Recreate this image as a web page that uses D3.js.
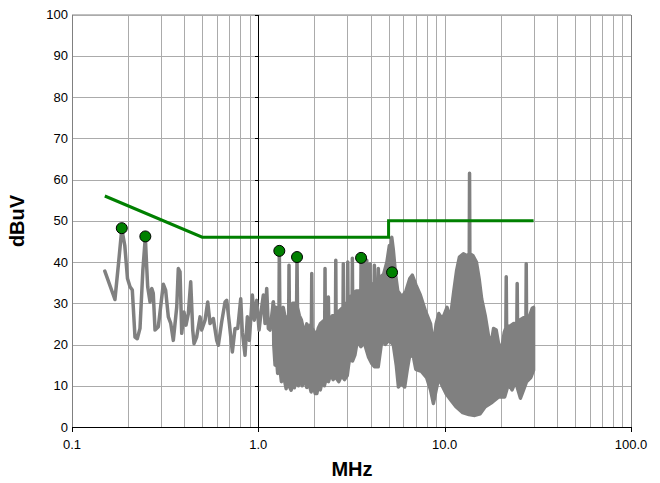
<!DOCTYPE html>
<html>
<head>
<meta charset="utf-8">
<script src="https://cdn.jsdelivr.net/npm/d3@7"></script>
<style>
  html, body { margin: 0; padding: 0; background: #fff; }
  svg { display: block; font-family: "Liberation Sans", Arial, sans-serif; }
</style>
</head>
<body>
<svg id="chart" width="660" height="483"></svg>
<script>
// Conducted emission scan, 0.15 – 30 MHz (dBuV)

// Axis ticks
const xTicks = [0.1, 1, 10, 100];
const xTickLabels = ["0.1", "1.0", "10.0", "100.0"];
const yTicks = [0, 10, 20, 30, 40, 50, 60, 70, 80, 90, 100];

// Limit line [MHz, dBuV]
const limitLine = [[0.15, 56], [0.5, 46], [5, 46], [5, 50], [30, 50]];

// Marked peaks
const peakFreqs = [0.185, 0.2475, 1.296, 1.613, 3.56, 5.22];
const peakLevels = [48.2, 46.2, 42.7, 41.2, 41.0, 37.5];

// Scan trace, low-frequency part [MHz, dBuV]
const traceLow = [
  [0.150, 37.8], [0.170, 30.9], [0.178, 40], [0.185, 48.0], [0.192, 44], [0.1985, 36],
  [0.2048, 34.0], [0.2107, 33.2], [0.2178, 21.8], [0.224, 21.4], [0.2317, 23.9],
  [0.2400, 38], [0.2475, 46.0], [0.2510, 40], [0.2548, 34.0], [0.2623, 30.3],
  [0.268, 33.6], [0.273, 32.4], [0.279, 23.5], [0.2905, 24.3], [0.309, 34.6],
  [0.318, 33.2], [0.3288, 26.7], [0.3388, 25.1], [0.3497, 21.0], [0.3648, 29.1],
  [0.372, 38.4], [0.380, 37.6], [0.388, 22.7], [0.399, 27.9], [0.409, 24.7],
  [0.421, 27.5], [0.4336, 35.2], [0.4446, 23.5], [0.4518, 20.2], [0.4667, 21.8],
  [0.4867, 26.7], [0.4967, 23.5], [0.5176, 25.9], [0.535, 30.3], [0.5506, 25.1],
  [0.5734, 26.3], [0.5981, 21.0], [0.610, 19.8], [0.636, 25.5], [0.6627, 30.3],
  [0.677, 30.7], [0.699, 25.1], [0.7252, 18.2], [0.750, 23.9], [0.7753, 23.9],
  [0.8046, 31.1], [0.8207, 23.0], [0.8484, 17.4], [0.8732, 26.7], [0.8948, 21.0],
  [0.9286, 32.0], [0.9517, 25.9], [0.980, 30.7], [1.009, 23.5], [1.043, 29.1],
  [1.064, 32.0], [1.086, 25.1], [1.109, 33.6], [1.132, 23.9], [1.156, 23.5],
  [1.204, 30.3]
];

// Dense part of the scan: upper envelope (with narrow spikes) [MHz, dBuV]
const bandUpper = [
  [1.204, 30.3], [1.22, 27], [1.245, 29], [1.26, 26],
  [1.29, 27], [1.296, 42.7], [1.305, 28], [1.33, 26], [1.36, 29], [1.40, 26],
  [1.455, 27], [1.461, 39.2], [1.468, 28], [1.50, 29], [1.53, 30],
  [1.605, 30], [1.613, 41.2], [1.622, 29], [1.66, 27], [1.70, 26], [1.74, 24],
  [1.78, 23], [1.82, 25], [1.85, 24],
  [1.927, 25], [1.935, 37.2], [1.944, 24], [2.00, 23], [2.05, 22], [2.10, 24], [2.15, 25],
  [2.272, 26], [2.28, 38.4], [2.288, 26], [2.368, 27], [2.376, 31.5], [2.384, 27],
  [2.44, 26], [2.5, 27], [2.595, 27], [2.604, 40.4], [2.613, 27], [2.7, 28],
  [2.849, 29], [2.858, 39.6], [2.867, 29], [2.95, 30],
  [3.01, 30], [3.02, 40.0], [3.03, 31], [3.186, 32], [3.196, 40.9], [3.206, 32],
  [3.35, 33], [3.55, 33], [3.56, 41.0], [3.57, 33],
  [3.651, 33], [3.662, 40.0], [3.673, 33], [3.808, 33], [3.819, 40.4], [3.83, 33],
  [3.968, 34], [3.98, 39.6], [3.992, 34], [4.182, 35], [4.195, 39.2], [4.208, 35],
  [4.39, 36], [4.405, 38.4], [4.42, 36], [4.7, 37], [4.9, 40],
  [5.05, 44], [5.15, 43], [5.2, 46], [5.3, 43], [5.45, 37], [5.6, 33],
  [5.9, 31.5], [6.2, 33], [6.5, 36], [6.7, 36.8], [7.0, 34.5], [7.4, 32],
  [7.9, 28], [8.4, 25], [8.7, 19.5], [9.0, 25], [9.3, 27.5], [9.6, 26.5],
  [9.9, 27], [10.3, 29], [10.7, 26], [11.2, 33], [11.6, 38], [12.0, 41.2],
  [12.6, 42], [13.2, 41.5], [13.55, 42], [13.6, 61.5], [13.65, 42],
  [14.2, 41.5], [14.8, 40], [15.3, 36], [15.8, 31], [16.5, 27], [17.2, 22],
  [17.8, 20.5], [18.3, 23.9], [18.9, 23.5], [19.5, 20], [20.3, 19.4],
  [20.9, 23], [21.3, 24], [21.4, 36.4], [21.5, 24.3], [22.5, 24.5], [23.5, 25.1],
  [24.4, 25], [24.5, 34.8], [24.6, 25.5], [25.5, 26], [26.5, 26.5],
  [27.3, 26.3], [27.4, 39.6], [27.5, 27], [28.5, 26.7], [29.5, 28.8], [30, 29]
];

// Dense part of the scan: lower envelope [MHz, dBuV]
const bandLower = [
  [1.21, 20], [1.23, 15], [1.25, 17], [1.27, 13], [1.30, 15], [1.33, 11],
  [1.36, 13], [1.41, 9.3], [1.43, 12], [1.46, 10], [1.50, 8.9], [1.53, 11],
  [1.56, 9.5], [1.60, 12], [1.64, 10], [1.68, 12], [1.72, 10], [1.77, 11.5],
  [1.82, 9.6], [1.86, 11], [1.92, 8.5], [1.97, 10], [2.02, 8.1], [2.06, 8.1],
  [2.10, 10], [2.15, 9], [2.20, 11], [2.26, 10], [2.32, 12], [2.38, 11],
  [2.45, 13], [2.52, 11.5], [2.60, 12.1], [2.70, 11], [2.80, 12.5], [2.90, 11.5],
  [3.00, 12.5], [3.05, 15], [3.10, 17], [3.20, 16], [3.30, 17.5], [3.40, 21],
  [3.55, 19.5], [3.70, 20.5], [3.90, 17], [4.05, 15.5], [4.20, 14.6], [4.40, 14.6],
  [4.60, 21], [4.80, 20], [5.00, 21], [5.30, 20], [5.50, 15], [5.65, 9.7],
  [5.85, 10.5], [6.10, 9.7], [6.30, 14], [6.50, 17.5], [6.80, 17], [7.00, 14],
  [7.50, 13.5], [8.00, 12], [8.40, 9], [8.70, 5.7], [9.00, 9], [9.30, 12],
  [9.70, 10], [10.2, 8], [10.8, 6.5], [11.5, 4.9], [12.5, 3.5], [13.5, 3],
  [14.5, 2.8], [15.5, 3.2], [16.5, 4.9], [18.0, 6], [19.5, 7.3], [21.0, 7.3],
  [22.0, 10.5], [23.0, 9], [24.0, 11], [25.5, 7], [26.5, 9], [27.5, 11],
  [29.0, 12], [30.0, 13.8]
];

const svg = d3.select("#chart");
const plotLeft = 72, plotRight = 631, plotTop = 14.5, plotBottom = 427;

const x = d3.scaleLog().domain([0.1, 100]).range([plotLeft, plotRight]);
const y = d3.scaleLinear().domain([0, 100]).range([plotBottom, plotTop]);

// Gridlines
const minorX = [];
[0.1, 1, 10].forEach(d => { for (let k = 1; k <= 9; k++) minorX.push(d * k); });
const grid = svg.append("g").attr("shape-rendering", "crispEdges");
grid.selectAll("line.vx").data(minorX.filter(v => v > 0.1 && v < 100)).join("line")
  .attr("x1", d => Math.round(x(d)) + 0.5).attr("x2", d => Math.round(x(d)) + 0.5)
  .attr("y1", plotTop).attr("y2", plotBottom)
  .attr("stroke", "#ababab").attr("stroke-width", 1);
grid.selectAll("line.hy").data(yTicks.filter(v => v > 0)).join("line")
  .attr("x1", plotLeft).attr("x2", plotRight)
  .attr("y1", d => Math.round(y(d)) + 0.5).attr("y2", d => Math.round(y(d)) + 0.5)
  .attr("stroke", "#ababab").attr("stroke-width", 1);

// Plot frame
grid.append("line").attr("x1", plotLeft).attr("x2", plotRight).attr("y1", plotTop).attr("y2", plotTop)
  .attr("stroke", "#c0c0c0").attr("stroke-width", 1.5);
grid.append("line").attr("x1", plotRight + 0.5).attr("x2", plotRight + 0.5).attr("y1", plotTop).attr("y2", plotBottom)
  .attr("stroke", "#808080").attr("stroke-width", 1.5);
grid.append("line").attr("x1", plotLeft + 0.5).attr("x2", plotLeft + 0.5).attr("y1", plotTop).attr("y2", plotBottom)
  .attr("stroke", "#808080").attr("stroke-width", 1.5);

// Vertical axis line at 1 MHz with its ticks
const xAxisAt1 = Math.round(x(1)) + 0.5;
grid.append("line").attr("x1", xAxisAt1).attr("x2", xAxisAt1).attr("y1", plotTop).attr("y2", plotBottom + 4)
  .attr("stroke", "#000").attr("stroke-width", 1);
grid.selectAll("line.yt").data(yTicks).join("line")
  .attr("x1", xAxisAt1 - 4).attr("x2", xAxisAt1)
  .attr("y1", d => Math.round(y(d)) + 0.5).attr("y2", d => Math.round(y(d)) + 0.5)
  .attr("stroke", "#000");

// Horizontal axis
grid.append("line").attr("x1", plotLeft).attr("x2", plotRight + 1).attr("y1", plotBottom + 0.5).attr("y2", plotBottom + 0.5)
  .attr("stroke", "#000").attr("stroke-width", 1);
grid.selectAll("line.xt").data(xTicks).join("line")
  .attr("x1", d => Math.round(x(d)) + 0.5).attr("x2", d => Math.round(x(d)) + 0.5)
  .attr("y1", plotBottom).attr("y2", plotBottom + 5)
  .attr("stroke", "#000");

// Tick labels
svg.append("g").selectAll("text").data(yTicks).join("text")
  .attr("x", 68).attr("y", d => y(d) + 4.5)
  .attr("text-anchor", "end").attr("font-size", 13).attr("fill", "#000")
  .text(d => d);
svg.append("g").selectAll("text").data(xTicks).join("text")
  .attr("x", d => x(d)).attr("y", 449)
  .attr("text-anchor", "middle").attr("font-size", 13).attr("fill", "#000")
  .text((d, i) => xTickLabels[i]);

// Axis titles
svg.append("text").attr("x", 352).attr("y", 476)
  .attr("text-anchor", "middle").attr("font-size", 20).attr("font-weight", "bold")
  .text("MHz");
svg.append("text").attr("transform", "translate(24,221) rotate(-90)")
  .attr("text-anchor", "middle").attr("font-size", 20).attr("font-weight", "bold")
  .text("dBuV");

// Scan trace
const line = d3.line().x(d => x(d[0])).y(d => y(d[1]));
svg.append("path").datum(traceLow).attr("d", line)
  .attr("fill", "none").attr("stroke", "#808080").attr("stroke-width", 3.5)
  .attr("stroke-linejoin", "round").attr("stroke-linecap", "round");
const bandPoly = bandUpper.concat(bandLower.slice().reverse());
svg.append("path").datum(bandPoly).attr("d", d3.line().x(d => x(d[0])).y(d => y(d[1])).curve(d3.curveLinearClosed))
  .attr("fill", "#808080").attr("stroke", "#808080").attr("stroke-width", 3.5)
  .attr("stroke-linejoin", "round");

// Limit line
svg.append("path").datum(limitLine).attr("d", line)
  .attr("fill", "none").attr("stroke", "#008000").attr("stroke-width", 3);

// Peak markers
svg.append("g").selectAll("circle").data(peakFreqs).join("circle")
  .attr("cx", d => x(d)).attr("cy", (d, i) => y(peakLevels[i])).attr("r", 5.5)
  .attr("fill", "#008000").attr("stroke", "#000").attr("stroke-width", 1);
</script>
</body>
</html>
